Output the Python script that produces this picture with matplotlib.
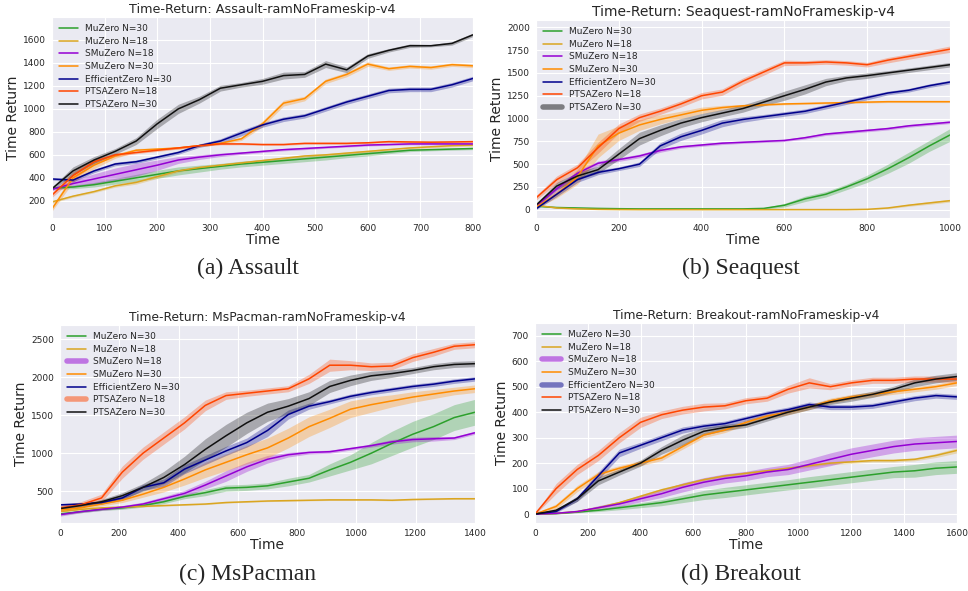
import numpy as np
import matplotlib
matplotlib.use('Agg')
import matplotlib.pyplot as plt
import seaborn as sns
from matplotlib.lines import Line2D

LABELS = ['MuZero N=30', 'MuZero N=18', 'SMuZero N=18', 'SMuZero N=30',
          'EfficientZero N=30', 'PTSAZero N=18', 'PTSAZero N=30']
COLORS = ['#2ca02c', '#daa520', '#9400d3', '#ff8c00', '#00008b', '#ff4500', '#111111']

# ---- Assault (x step 40) ----
ASSAULT_X = [0, 40, 80, 120, 160, 200, 240, 280, 320, 360, 400, 440, 480, 520, 560, 600, 640, 680, 720, 760, 800]
ASSAULT_MEAN = [
    [310, 320, 340, 370, 400, 430, 460, 480, 500, 520, 535, 550, 565, 580, 595, 610, 625, 640, 645, 650, 655],
    [190, 240, 280, 330, 360, 410, 460, 490, 510, 530, 550, 570, 590, 600, 615, 630, 645, 660, 670, 680, 685],
    [300, 350, 390, 430, 470, 510, 555, 580, 600, 615, 630, 645, 655, 665, 675, 685, 690, 695, 695, 695, 695],
    [130, 400, 510, 590, 640, 650, 660, 680, 700, 740, 870, 1050, 1090, 1240, 1300, 1390, 1350, 1370, 1360, 1385, 1375],
    [390, 380, 460, 520, 540, 580, 620, 680, 720, 790, 860, 910, 940, 1000, 1060, 1110, 1160, 1170, 1170, 1210, 1265],
    [250, 420, 540, 600, 620, 640, 660, 680, 695, 695, 690, 690, 700, 700, 700, 705, 715, 712, 710, 712, 715],
    [305, 460, 555, 630, 720, 870, 1000, 1080, 1180, 1210, 1240, 1290, 1300, 1390, 1340, 1460, 1510, 1550, 1550, 1570, 1645],
]
ASSAULT_BAND = [
    [10, 15, 20, 25, 30, 35, 35, 30, 25, 25, 25, 25, 25, 25, 20, 20, 15, 12, 10, 10, 10],
    [10, 10, 10, 12, 15, 15, 12, 10, 10, 10, 10, 10, 10, 10, 10, 10, 10, 10, 10, 10, 10],
    [10, 30, 45, 55, 55, 45, 30, 20, 15, 12, 10, 10, 10, 8, 8, 8, 8, 8, 8, 8, 8],
    [20, 40, 30, 20, 15, 10, 10, 10, 10, 15, 25, 25, 20, 20, 20, 20, 15, 15, 15, 15, 15],
    [10, 15, 15, 15, 15, 15, 15, 15, 20, 25, 20, 20, 20, 20, 20, 20, 20, 20, 20, 20, 20],
    [20, 35, 25, 15, 10, 10, 10, 8, 8, 8, 8, 8, 8, 8, 8, 8, 8, 8, 8, 8, 8],
    [15, 35, 30, 25, 30, 40, 40, 30, 25, 20, 25, 30, 25, 30, 25, 20, 15, 15, 10, 15, 15],
]

# ---- Seaquest (x step 50) ----
SEAQUEST_X = [0, 50, 100, 150, 200, 250, 300, 350, 400, 450, 500, 550, 600, 650, 700, 750, 800, 850, 900, 950, 1000]
SEAQUEST_MEAN = [
    [40, 25, 20, 15, 12, 10, 10, 10, 10, 10, 10, 15, 50, 120, 170, 250, 340, 450, 570, 700, 820],
    [50, 20, 10, 5, 3, 2, 2, 2, 2, 2, 2, 2, 2, 2, 2, 2, 5, 20, 50, 75, 100],
    [40, 230, 400, 510, 550, 590, 650, 690, 710, 730, 740, 750, 760, 790, 830, 850, 870, 890, 920, 940, 960],
    [30, 170, 360, 700, 840, 930, 990, 1040, 1090, 1120, 1140, 1150, 1160, 1165, 1170, 1175, 1180, 1185, 1185, 1185, 1185],
    [10, 170, 330, 410, 450, 500, 700, 800, 870, 950, 990, 1020, 1050, 1080, 1130, 1180, 1230, 1280, 1310, 1360, 1400],
    [130, 330, 460, 680, 890, 1010, 1080, 1160, 1250, 1290, 1410, 1510, 1610, 1610, 1620, 1610, 1590, 1640, 1680, 1720, 1760],
    [50, 260, 370, 440, 610, 780, 870, 950, 1010, 1060, 1110, 1180, 1250, 1320, 1400, 1445, 1470, 1500, 1530, 1560, 1590],
]
SEAQUEST_BAND = [
    [5, 5, 5, 5, 5, 5, 5, 5, 5, 5, 5, 8, 20, 30, 30, 30, 40, 50, 60, 60, 70],
    [5, 5, 5, 3, 2, 2, 2, 2, 2, 2, 2, 2, 2, 2, 2, 2, 3, 8, 12, 15, 15],
    [15, 30, 30, 25, 20, 20, 20, 15, 15, 15, 12, 12, 12, 15, 15, 15, 15, 15, 15, 15, 15],
    [15, 40, 80, 130, 80, 60, 50, 40, 35, 25, 15, 10, 10, 10, 10, 10, 10, 10, 10, 10, 10],
    [10, 25, 30, 25, 20, 25, 35, 40, 40, 40, 30, 25, 25, 25, 25, 25, 25, 20, 20, 20, 20],
    [25, 40, 40, 60, 50, 40, 35, 35, 35, 35, 35, 35, 30, 25, 25, 25, 25, 30, 30, 30, 35],
    [20, 40, 40, 40, 60, 70, 60, 50, 45, 40, 40, 40, 50, 50, 40, 30, 30, 25, 25, 25, 25],
]

# ---- MsPacman (x step 70) ----
MSPACMAN_X = [0, 70, 140, 210, 280, 350, 420, 490, 560, 630, 700, 770, 840, 910, 980, 1050, 1120, 1190, 1260, 1330, 1400]
MSPACMAN_MEAN = [
    [200, 230, 260, 280, 310, 360, 430, 480, 540, 550, 570, 620, 670, 780, 880, 1000, 1130, 1250, 1350, 1470, 1540],
    [230, 260, 280, 290, 300, 310, 320, 330, 350, 360, 370, 375, 380, 385, 385, 385, 380, 390, 395, 400, 400],
    [190, 230, 260, 290, 330, 400, 470, 580, 700, 820, 920, 980, 1010, 1020, 1060, 1100, 1150, 1180, 1190, 1200, 1270],
    [250, 280, 330, 380, 460, 550, 660, 780, 880, 980, 1070, 1200, 1350, 1460, 1580, 1640, 1690, 1740, 1780, 1820, 1850],
    [320, 330, 350, 410, 550, 610, 790, 910, 1030, 1140, 1300, 1510, 1620, 1680, 1750, 1800, 1840, 1880, 1910, 1950, 1980],
    [280, 320, 410, 750, 1000, 1200, 1400, 1630, 1760, 1790, 1820, 1850, 1980, 2160, 2160, 2140, 2150, 2260, 2330, 2410, 2430],
    [270, 310, 360, 440, 550, 680, 850, 1050, 1230, 1400, 1540, 1620, 1720, 1880, 1960, 2020, 2050, 2090, 2140, 2170, 2180],
]
MSPACMAN_BAND = [
    [15, 15, 15, 20, 20, 25, 30, 40, 40, 40, 40, 50, 50, 80, 100, 140, 160, 170, 170, 170, 170],
    [8, 8, 8, 8, 8, 8, 8, 8, 8, 8, 8, 8, 8, 8, 8, 8, 8, 8, 8, 8, 8],
    [20, 15, 15, 20, 25, 30, 40, 50, 70, 60, 50, 30, 20, 20, 20, 20, 30, 30, 30, 20, 20],
    [20, 20, 25, 30, 40, 60, 80, 100, 110, 120, 130, 130, 130, 120, 110, 100, 80, 70, 60, 50, 50],
    [15, 15, 20, 30, 40, 50, 60, 60, 60, 60, 80, 60, 40, 30, 30, 30, 30, 30, 30, 30, 30],
    [30, 40, 50, 80, 80, 80, 80, 70, 50, 40, 40, 40, 60, 80, 60, 50, 50, 50, 50, 40, 40],
    [20, 20, 30, 40, 50, 80, 110, 140, 150, 140, 120, 100, 90, 80, 70, 60, 50, 40, 40, 40, 40],
]

# ---- Breakout (x step 80) ----
BREAKOUT_X = [0, 80, 160, 240, 320, 400, 480, 560, 640, 720, 800, 880, 960, 1040, 1120, 1200, 1280, 1360, 1440, 1520, 1600]
BREAKOUT_MEAN = [
    [0, 2, 8, 15, 25, 35, 45, 60, 75, 85, 95, 105, 115, 125, 135, 145, 155, 165, 170, 180, 185],
    [0, 3, 10, 25, 45, 70, 95, 115, 135, 150, 160, 170, 180, 190, 200, 205, 210, 210, 215, 230, 250],
    [0, 3, 10, 25, 40, 60, 80, 105, 125, 140, 150, 165, 175, 195, 215, 235, 250, 265, 275, 280, 285],
    [0, 30, 100, 155, 180, 200, 220, 265, 310, 330, 360, 385, 400, 420, 445, 460, 470, 480, 490, 500, 515],
    [0, 10, 60, 150, 240, 270, 300, 330, 345, 355, 375, 395, 410, 430, 420, 420, 425, 440, 455, 465, 460],
    [0, 100, 175, 230, 300, 360, 390, 408, 420, 425, 445, 455, 490, 515, 500, 515, 525, 525, 530, 530, 530],
    [0, 15, 60, 130, 165, 200, 250, 290, 325, 340, 350, 375, 400, 420, 440, 455, 470, 490, 515, 530, 540],
]
BREAKOUT_BAND = [
    [1, 2, 3, 5, 8, 10, 12, 15, 18, 20, 20, 20, 20, 22, 22, 22, 22, 22, 25, 25, 25],
    [1, 2, 3, 4, 5, 6, 6, 6, 6, 6, 6, 6, 6, 6, 6, 6, 6, 6, 6, 8, 10],
    [1, 2, 4, 8, 10, 12, 15, 18, 18, 18, 18, 18, 20, 22, 25, 25, 25, 25, 25, 25, 25],
    [2, 10, 12, 12, 10, 10, 10, 10, 10, 10, 10, 10, 10, 10, 10, 10, 10, 10, 10, 10, 10],
    [2, 5, 10, 15, 15, 12, 12, 12, 10, 10, 10, 10, 10, 10, 10, 10, 10, 10, 10, 10, 10],
    [2, 20, 20, 20, 20, 20, 15, 15, 15, 12, 12, 12, 15, 20, 12, 12, 12, 12, 12, 12, 12],
    [2, 5, 10, 15, 12, 12, 15, 20, 15, 12, 10, 10, 10, 10, 10, 12, 12, 12, 15, 15, 15],
]

sns.set_style('darkgrid')
plt.rcParams['font.family'] = ['DejaVu Sans']


def draw(ax, x, means, bands, title, xlim, ylim, thick=(), title_size=10):
    x = np.array(x)
    for mean, band, color in zip(means, bands, COLORS):
        mean = np.array(mean, dtype=float)
        band = np.array(band, dtype=float)
        ax.fill_between(x, mean - band, mean + band, color=color, alpha=0.3, lw=0)
        ax.plot(x, mean, color=color, lw=1.1)
    ax.set_xlim(*xlim)
    ax.set_ylim(*ylim)
    ax.set_title(title, fontsize=title_size, pad=3)
    ax.set_xlabel('Time', fontsize=10, labelpad=0)
    ax.set_ylabel('Time Return', fontsize=10, labelpad=2)
    ax.tick_params(labelsize=6.5, pad=1)
    handles = []
    for i, (lab, color) in enumerate(zip(LABELS, COLORS)):
        if i in thick:
            handles.append(Line2D([], [], color=color, lw=4, alpha=0.5))
        else:
            handles.append(Line2D([], [], color=color, lw=1.1))
    ax.legend(handles, LABELS, loc='upper left', fontsize=6.5, frameon=False,
              handlelength=2.1, labelspacing=0.4, borderaxespad=0.4)


W, H = 968, 591
fig = plt.figure(figsize=(W / 100, H / 100), dpi=100)


def box(l, t, r, b):
    return [l / W, 1 - b / H, (r - l) / W, (b - t) / H]


ax_a = fig.add_axes(box(52, 17, 473, 218))
ax_b = fig.add_axes(box(536, 20, 950, 218))
ax_c = fig.add_axes(box(60, 325, 475, 523))
ax_d = fig.add_axes(box(535, 323, 957, 523))

draw(ax_a, ASSAULT_X, ASSAULT_MEAN, ASSAULT_BAND,
     'Time-Return: Assault-ramNoFrameskip-v4', (0, 800), (50, 1800),
     title_size=9.2)
draw(ax_b, SEAQUEST_X, SEAQUEST_MEAN, SEAQUEST_BAND,
     'Time-Return: Seaquest-ramNoFrameskip-v4', (0, 1000), (-90, 2080),
     thick=(6,), title_size=10)
draw(ax_c, MSPACMAN_X, MSPACMAN_MEAN, MSPACMAN_BAND,
     'Time-Return: MsPacman-ramNoFrameskip-v4', (0, 1400), (80, 2690),
     thick=(2, 5), title_size=8.8)
draw(ax_d, BREAKOUT_X, BREAKOUT_MEAN, BREAKOUT_BAND,
     'Time-Return: Breakout-ramNoFrameskip-v4', (0, 1600), (-35, 750),
     thick=(2, 4), title_size=8.8)

ax_a.set_yticks(range(200, 1601, 200))
ax_b.set_yticks(range(0, 2001, 250))
ax_c.set_yticks(range(500, 2501, 500))
ax_d.set_yticks(range(0, 701, 100))

caps = [('(a) Assault', 248, 268), ('(b) Seaquest', 741, 268),
        ('(c) MsPacman', 248, 574), ('(d) Breakout', 741, 574)]
for text, cx, cy in caps:
    fig.text(cx / W, 1 - cy / H, text, ha='center', va='center',
             fontsize=17, family='Liberation Serif')

fig.savefig('out.png', dpi=100)
